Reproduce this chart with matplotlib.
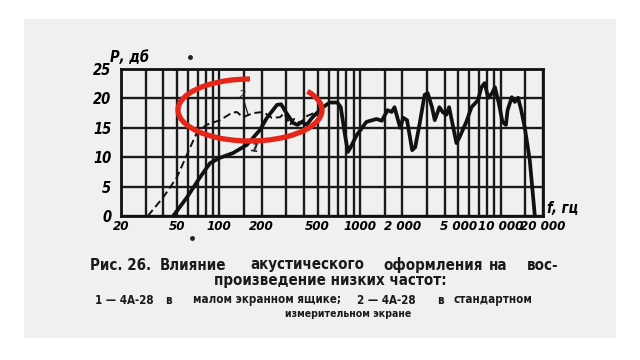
import numpy as np
import matplotlib.pyplot as plt
from matplotlib.patches import Arc, Rectangle

# curve 1: 4A-28 in small box (solid)
f1 = [47, 59, 73, 86, 101, 125, 157, 194, 218, 257, 275, 300, 336, 360, 385, 418,
      460, 545, 610, 690, 730, 780, 820, 850, 950, 1110, 1310, 1430, 1570, 1680,
      1760, 1930, 2030, 2160, 2350, 2470, 2660, 2880, 3030, 3250, 3400, 3670, 3870,
      4100, 4300, 4850, 5100, 5700, 6200, 6600, 6900, 7300, 7700, 8150, 8700, 9100,
      9700, 10300, 10900, 11200, 12000, 12600, 13300, 14000, 14850, 16100, 17500]
db1 = [0, 3.2, 6.6, 9.0, 9.9, 10.7, 12.1, 14.6, 16.7, 18.9, 19.0, 17.5, 15.8, 15.5, 16.0, 15.5,
       16.8, 18.5, 19.3, 19.3, 18.5, 14.0, 10.9, 11.5, 13.8, 16.0, 16.5, 16.2, 18.0, 17.7,
       18.5, 15.0, 16.7, 16.3, 11.2, 11.7, 15.8, 20.6, 20.9, 18.5, 16.3, 18.5, 17.7,
       17.2, 18.5, 12.4, 13.4, 16.0, 18.5, 19.2, 19.7, 21.9, 22.6, 20.1, 20.9, 21.9,
       19.2, 16.0, 15.5, 18.0, 20.2, 19.4, 20.1, 18.0, 15.0, 9.5, 0]

# curve 2: 4A-28 in standard baffle (dashed)
f2 = [31, 40, 50, 59, 69, 81, 101, 122, 133, 147, 174, 205, 236, 270, 290, 318, 340, 375, 420, 470]
db2 = [0, 3.2, 6.6, 10.5, 14.1, 15.5, 16.3, 17.5, 17.7, 16.8, 17.5, 17.7, 16.7, 16.8, 17.5, 15.5,
       16.5, 15.8, 17.0, 17.5]

xgrid = [30, 40, 50, 60, 70, 80, 90, 100, 150, 200, 300, 400, 500, 600, 700, 800, 900,
         1000, 1500, 2000, 3000, 4000, 5000, 6000, 7000, 8000, 9000, 10000, 15000]
xticks = [20, 50, 100, 200, 500, 1000, 2000, 5000, 10000, 20000]
xlabels = ['20', '50', '100', '200', '500', '1000', '2 000', '5 000', '10 000', '20 000']
yticks = [0, 5, 10, 15, 20, 25]

# caption words and their left edges (pixels)
cap1 = ['Рис. 26.', 'Влияние', 'акустического', 'оформления', 'на', 'вос-']
cap1_x = [90, 160, 250, 383, 489, 527]
cap3 = ['1 — 4А-28', 'в', 'малом экранном ящике;', '2 — 4А-28', 'в', 'стандартном']
cap3_x = [95, 165, 193, 357, 437, 453]

fig = plt.figure(figsize=(6.4, 3.6), dpi=100)
fig.patch.set_facecolor('white')
fig.add_artist(Rectangle((24 / 640, 1 - 337 / 360), 591 / 640, 318 / 360,
                         transform=fig.transFigure, color='#f0f0f0', zorder=0))

ax = fig.add_axes([121 / 640, 1 - 216 / 360, 422 / 640, 147 / 360])
ax.set_facecolor('none')
ax.set_xscale('log')
ax.set_xlim(20, 20000)
ax.set_ylim(0, 25)

tfont = dict(family='DejaVu Sans', style='italic', weight='bold', stretch='condensed', size=10.5)
xfont = dict(tfont, size=9.5)
ax.set_xticks(xticks)
ax.set_xticklabels(xlabels, fontdict=xfont)
ax.set_xticks(xgrid, minor=True)
ax.set_xticklabels([], minor=True)
ax.set_yticks(yticks)
ax.set_yticklabels([str(v) for v in yticks], fontdict=tfont)
ax.tick_params(which='both', length=0)
ax.tick_params(axis='x', pad=3)
ax.tick_params(axis='y', pad=7)
# nudge the crowded last two labels apart
xtl = ax.get_xticklabels()
xtl[-2].set_x(9600)
xtl[-1].set_horizontalalignment('center')
ax.grid(True, which='both', color='#1a1a1a', lw=1.7)
for s in ax.spines.values():
    s.set_linewidth(2)
    s.set_color('#111111')

ax.plot(f1, db1, color='#111111', lw=2.7, solid_joinstyle='round', zorder=3)
ax.plot(f2, db2, color='#111111', lw=1.4, dashes=(4, 2), zorder=3)

# curve numbers with leader lines
ax.plot([150, 160], [19.5, 17.3], color='#222222', lw=0.9)
ax.text(145, 20.5, '2', fontsize=8, style='italic', color='#222222', ha='center', va='center')
ax.text(178, 11.5, '1', fontsize=9, style='italic', weight='bold', color='#222222',
        ha='center', va='center', rotation=-10)

ax.text(-0.025, 1.08, 'Р, дб', transform=ax.transAxes, fontdict=tfont, ha='left', va='center')
ax.text(1.01, 0.05, 'f, гц', transform=ax.transAxes, fontdict=tfont, ha='left', va='center')

# specks on the scan
fig.add_artist(plt.Line2D([190 / 640, 192 / 640], [1 - 57 / 360, 1 - 238 / 360], ls='none',
                          marker='o', ms=2.5, color='#222222', transform=fig.transFigure))

# red hand-drawn ellipse
fig.add_artist(Arc((2.50, 2.50), 1.44, 0.62, theta1=90, theta2=378, color='#e62619',
                   lw=3.8, transform=fig.dpi_scale_trans, zorder=5))

cap = dict(family='DejaVu Sans', weight='bold', stretch='condensed', color='#1a1a1a')
for word, x in zip(cap1, cap1_x):
    fig.text(x / 640, 1 - 265 / 360, word, ha='left', va='center', size=10.8, **cap)
fig.text(330 / 640, 1 - 281 / 360, 'произведение низких частот:',
         ha='center', va='center', size=10.8, **cap)
for word, x in zip(cap3, cap3_x):
    fig.text(x / 640, 1 - 300 / 360, word, ha='left', va='center', size=8.3, **cap)
fig.text(348 / 640, 1 - 314 / 360, 'измерительном экране',
         ha='center', va='center', size=7.6, **cap)

fig.savefig('out.png', dpi=100)
